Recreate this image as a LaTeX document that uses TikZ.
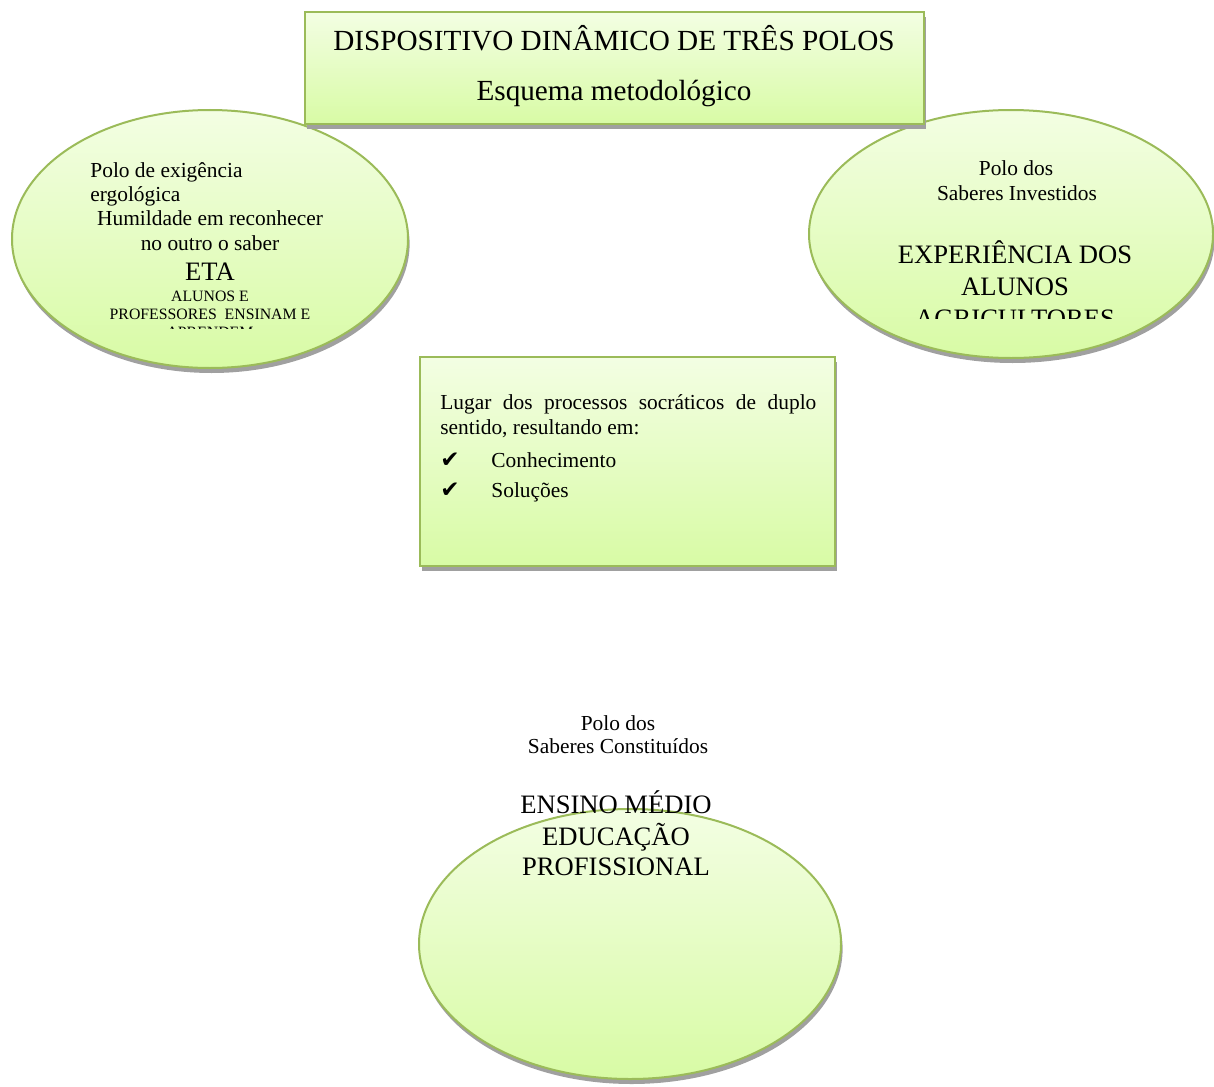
\documentclass[tikz,border=0pt]{standalone}
\usepackage{fontspec}
\setmainfont{Liberation Serif}
\newfontfamily\symfont{DejaVu Sans}
\usetikzlibrary{shapes.geometric, shadows, positioning}

\definecolor{poloedge}{HTML}{9BBB59}
\definecolor{polotop}{HTML}{F3FEE3}
\definecolor{polobot}{HTML}{D8FBA5}
\definecolor{poloshadow}{HTML}{A0A0A0}

\begin{document}
\begin{tikzpicture}[x=0.5pt, y=-0.5pt,
  polo/.style={ellipse, draw=poloedge, line width=1pt, inner sep=0pt, top color=polotop, bottom color=polobot,
    drop shadow={shadow xshift=0.8pt, shadow yshift=-2.5pt, fill=poloshadow, opacity=1}},
  box/.style={rectangle, draw=poloedge, line width=1pt, inner sep=0pt, top color=polotop, bottom color=polobot,
    drop shadow={shadow xshift=0.8pt, shadow yshift=-2.5pt, fill=poloshadow, opacity=1}},
  txt/.style={inner sep=0pt, font=\fontsize{10.7}{12.5}\selectfont},
  bigtxt/.style={inner sep=0pt, font=\fontsize{13.3}{15.5}\selectfont},
  smalltxt/.style={inner sep=0pt, font=\fontsize{7.9}{9}\selectfont},
  titletxt/.style={inner sep=0pt, font=\fontsize{14.6}{17}\selectfont}]

  \useasboundingbox (0,0) rectangle (1214,1086);

  % the three poles
  \node[polo, minimum width=198pt, minimum height=129pt] (exig) at (210,239) {};
  \node[polo, minimum width=202pt, minimum height=124pt] (invest) at (1011,234) {};
  \node[polo, minimum width=211pt, minimum height=135pt] (constit) at (630,944) {};

  % boxes
  \node[box, minimum width=309.5pt, minimum height=56pt] (titulo) at (614.5,68) {};
  \node[box, minimum width=207.5pt, minimum height=104.5pt] (lugar) at (627.5,461.5) {};

  \node[titletxt, anchor=base] (tit1) at (614,51) {DISPOSITIVO DINÂMICO DE TRÊS POLOS};
  \node[titletxt, anchor=base] (tit2) at (614,101) {Esquema metodológico};

  % left pole
  \node[txt, anchor=base west] (exig1) at (90,177) {Polo de exigência};
  \node[txt, anchor=base west] (exig2) at (90,201) {ergológica};
  \node[txt, anchor=base] (humil1) at (210,225) {Humildade em reconhecer};
  \node[txt, anchor=base] (humil2) at (210,250) {no outro o saber};
  \node[bigtxt, anchor=base] (eta) at (210,280) {ETA};
  \begin{scope}
    \clip (80,285) rectangle (340,328);
    \node[smalltxt, anchor=base] (alunos) at (210,301) {ALUNOS E};
    \node[smalltxt, anchor=base] (profs) at (210,319) {PROFESSORES~~ENSINAM E};
    \node[smalltxt, anchor=base] (aprend) at (210,337) {APRENDEM};
  \end{scope}

  % right pole
  \node[txt, anchor=base] (inv1) at (1016,175) {Polo dos};
  \node[txt, anchor=base] (inv2) at (1017,200) {Saberes Investidos};
  \begin{scope}
    \clip (880,240) rectangle (1150,318);
    \node[bigtxt, anchor=base] (exper) at (1015,263) {EXPERIÊNCIA DOS};
    \node[bigtxt, anchor=base] (alun) at (1015,295) {ALUNOS};
    \node[bigtxt, anchor=base] (agric) at (1015,327) {AGRICULTORES};
  \end{scope}

  % middle box
  \node[txt, anchor=base west] (socrat1) at (440,409)
    {\makebox[188pt][s]{Lugar dos processos socráticos de duplo}};
  \node[txt, anchor=base west] (socrat2) at (440,434) {sentido, resultando em:};
  \node[txt, anchor=base west, font=\symfont\fontsize{11.5}{12}\selectfont] (chk1) at (440,467) {✔};
  \node[txt, anchor=base west, font=\symfont\fontsize{11.5}{12}\selectfont] (chk2) at (440,497) {✔};
  \node[txt, anchor=base west] (conhec) at (491,467) {Conhecimento};
  \node[txt, anchor=base west] (soluc) at (491,497) {Soluções};

  % bottom pole
  \node[txt, anchor=base] (cons1) at (618,730) {Polo dos};
  \node[txt, anchor=base] (cons2) at (618,753) {Saberes Constituídos};
  \node[bigtxt, anchor=base] (ensino) at (616,813) {ENSINO MÉDIO};
  \node[bigtxt, anchor=base] (educ) at (616,845) {EDUCAÇÃO};
  \node[bigtxt, anchor=base] (prof) at (616,875) {PROFISSIONAL};
\end{tikzpicture}
\end{document}
